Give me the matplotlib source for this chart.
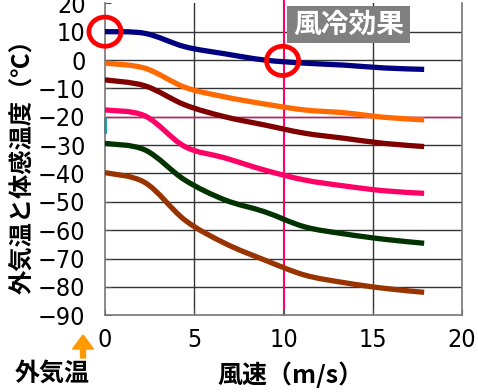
import matplotlib
matplotlib.use("Agg")
import matplotlib.pyplot as plt
from matplotlib.path import Path
from matplotlib.patches import PathPatch, Ellipse, Rectangle, FancyArrow
from matplotlib import font_manager

# 風速 (m/s) : 0〜40 mph を 5 mph 刻み
wind = [0, 2.24, 4.47, 6.71, 8.94, 11.18, 13.41, 15.65, 17.88]

# 体感温度 (℃) 外気温ごと
t_10 = [10, 9.4, 4.7, 2.2, 0.0, -1.1, -1.8, -2.8, -3.3]
t_0 = [-1.1, -2.9, -9.6, -13.0, -15.5, -17.6, -18.6, -20.2, -21.1]
t_m10 = [-7.0, -9.1, -15.8, -20.0, -22.9, -25.8, -27.6, -29.4, -30.5]
t_m20 = [-17.6, -19.7, -30.5, -34.5, -38.8, -42.3, -44.4, -46.1, -47.0]
t_m30 = [-29.4, -31.7, -42.3, -49.3, -53.5, -58.8, -61.3, -63.2, -64.6]
t_m40 = [-39.7, -43.2, -56.4, -64.6, -70.5, -75.8, -78.5, -80.5, -81.9]

series = [t_10, t_0, t_m10, t_m20, t_m30, t_m40]
colors = ["#000080", "#FF6A00", "#800000", "#FF0066", "#003300", "#993300"]

x_ticks = [0, 5, 10, 15, 20]
y_ticks = list(range(20, -91, -10))

# 注目点 (風速, 体感温度)
marks = [(0, 10), (9.95, -0.3)]

cjk = "Noto Sans CJK JP"
plt.rcParams["font.family"] = [cjk, "DejaVu Sans"]
plt.rcParams["axes.unicode_minus"] = True

# 数字用の細い書体を探す
num_fp = None
for key in ["LiberationSansNarrow-Regular", "DejaVuSansCondensed.ttf"]:
    for f in font_manager.fontManager.ttflist:
        if key in f.fname:
            num_fp = font_manager.FontProperties(fname=f.fname, size=18)
            break
    if num_fp is not None:
        break
if num_fp is None:
    num_fp = font_manager.FontProperties(family=cjk, size=18.5, weight="medium")


def smooth_path(xs, ys):
    # Excel風のスムージング線
    pts = list(zip(xs, ys))
    verts = [pts[0]]
    codes = [Path.MOVETO]
    n = len(pts)
    for i in range(n - 1):
        p0 = pts[max(i - 1, 0)]
        p1 = pts[i]
        p2 = pts[i + 1]
        p3 = pts[min(i + 2, n - 1)]
        c1 = (p1[0] + (p2[0] - p0[0]) / 6, p1[1] + (p2[1] - p0[1]) / 6)
        c2 = (p2[0] - (p3[0] - p1[0]) / 6, p2[1] - (p3[1] - p1[1]) / 6)
        verts += [c1, c2, p2]
        codes += [Path.CURVE4] * 3
    return Path(verts, codes)


W, H = 478, 392
fig = plt.figure(figsize=(W / 100, H / 100), dpi=100)
ax = fig.add_axes([105 / W, 1 - 315.3 / H, 357 / W, 312 / H])
ax.set_xlim(0, 20)
ax.set_ylim(-90, 20)

for y in y_ticks[1:-1]:
    ax.axhline(y, color="#333333", lw=1.0, zorder=1)
for x in [5, 15]:
    ax.axvline(x, color="#333333", lw=1.0, zorder=1)
ax.axhline(-20, color="#FF0066", lw=1.0, zorder=1.5)
ax.axvline(10, ymax=1.011, color="#FF0066", lw=1.5, zorder=1.5, clip_on=False)
ax.plot([0, 0], [-20.5, -25.5], color="#00A0A0", lw=2, zorder=2, clip_on=False)

for ys, c in zip(series, colors):
    ax.add_patch(PathPatch(smooth_path(wind, ys), fill=False, edgecolor=c,
                           lw=3.8, capstyle="butt", zorder=3))

for mx, my in marks:
    ax.add_patch(Ellipse((mx, my), 1.8, 10.3, fill=False, edgecolor="#FF0000",
                         lw=3.4, zorder=4, clip_on=False))

for s in ["left", "bottom", "right"]:
    ax.spines[s].set_color("#777777")
    ax.spines[s].set_linewidth(1.2)
ax.spines["top"].set_visible(False)

ax.set_xticks(x_ticks)
ax.set_yticks(y_ticks)
ax.tick_params(axis="both", direction="in", length=4, color="#555555")
ax.tick_params(axis="y", pad=14)
ax.tick_params(axis="x", pad=9)
for lab in ax.get_xticklabels() + ax.get_yticklabels():
    lab.set_fontproperties(num_fp)

fig.text(22 / W, 1 - 161 / H, "外気温と体感温度（℃）", rotation=90, ha="center",
         va="center", fontsize=17.5, fontweight="bold")
fig.text(290 / W, 1 - 375 / H, "風速（m/s）", ha="center", va="center",
         fontsize=18, fontweight="bold")
fig.text(52 / W, 1 - 374 / H, "外気温", ha="center", va="center",
         fontsize=18, fontweight="bold")

fig.patches.append(Rectangle((287 / W, 1 - 42.5 / H), 123 / W, 36.5 / H,
                             transform=fig.transFigure, facecolor="#808080",
                             edgecolor="none", zorder=5))
fig.text(348.5 / W, 1 - 24.5 / H, "風冷効果", ha="center", va="center",
         fontsize=20, fontweight="bold", color="white", zorder=6)

fig.patches.append(FancyArrow(
    83 / W, 1 - 358 / H, 0, 23 / H, width=5 / W, head_width=21 / W,
    head_length=14 / H, length_includes_head=True, transform=fig.transFigure,
    color="#FF9900", zorder=5))

fig.savefig("out.png", dpi=100)
